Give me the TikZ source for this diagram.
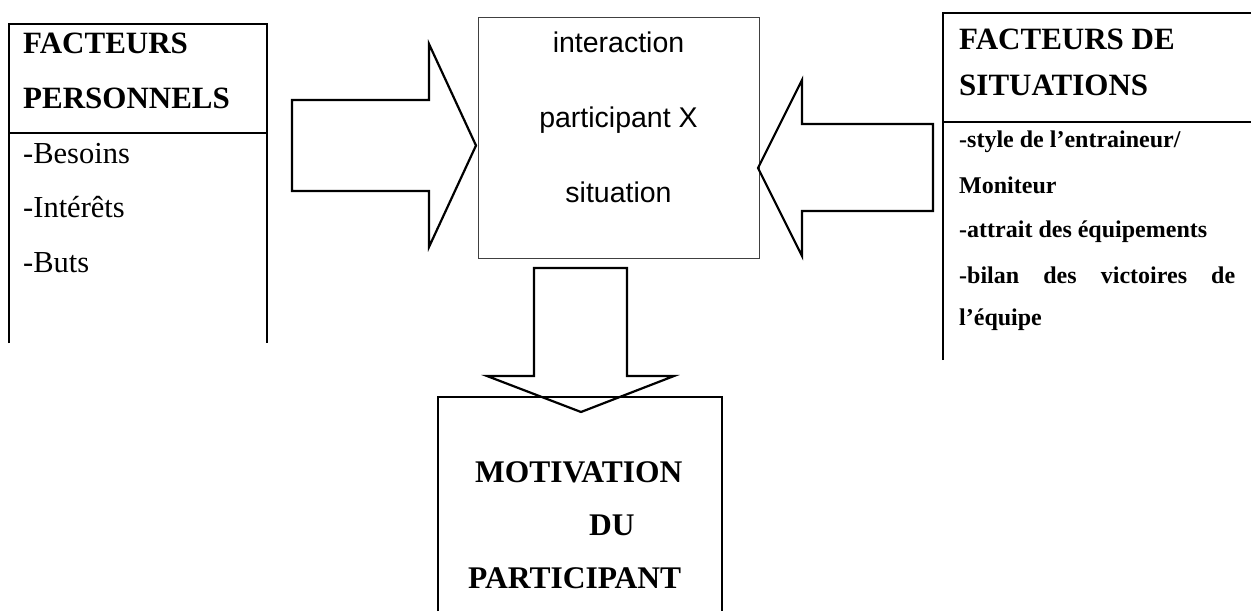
\documentclass[tikz,border=0pt]{standalone}
\usepackage{fontspec}
\setmainfont{Liberation Serif}
\newfontfamily\arialf{Liberation Sans}
\begin{document}
\begin{tikzpicture}[x=1pt,y=-1pt,
  boxline/.style={line width=1.5pt},
  blockarrow/.style={line width=2.2pt, line join=miter},
  title/.style={font=\fontsize{31}{36}\selectfont\bfseries, anchor=base west, inner sep=0pt},
  btitle/.style={font=\fontsize{31.5}{36}\selectfont\bfseries, anchor=base west, inner sep=0pt},
  item/.style={font=\fontsize{30.5}{34}\selectfont, anchor=base west, inner sep=0pt},
  ritem/.style={font=\fontsize{24}{28}\selectfont\bfseries, anchor=base west, inner sep=0pt},
  mid/.style={font=\arialf\fontsize{28.5}{34}\selectfont, anchor=base, inner sep=0pt}]
\useasboundingbox (0,0) rectangle (1251,611);

% left box
\draw[boxline] (9,343) -- (9,24) -- (267,24) -- (267,343);
\draw[boxline] (9,133) -- (267,133);
\node[title] (lt1) at (23,53) {FACTEURS};
\node[title] (lt2) at (23,108) {PERSONNELS};
\node[item] (l1) at (23,163) {-Besoins};
\node[item] (l2) at (23,217) {-Intérêts};
\node[item] (l3) at (23,272) {-Buts};

% centre box
\draw[line width=0.8pt, black!75] (478,17) rectangle (759,258);
\node[mid] (c1) at (618.5,52) {interaction};
\node[mid] (c2) at (618.5,127) {participant X};
\node[mid] (c3) at (618.5,202) {situation};

% right box
\draw[boxline] (943,360) -- (943,13) -- (1251,13);
\draw[boxline] (943,122) -- (1251,122);
\node[title] (rt1) at (959,49) {FACTEURS DE};
\node[title] (rt2) at (959,95) {SITUATIONS};
\node[ritem] (r1) at (959,147) {-style de l’entraineur/};
\node[ritem] (r2) at (959,193) {Moniteur};
\node[ritem] (r3) at (959,237) {-attrait des équipements};
\node[ritem] (r4) at (959,283) {\makebox[276pt][s]{-bilan des victoires de}};
\node[ritem] (r5) at (959,325) {l’équipe};

% bottom box
\draw[boxline] (438,611) -- (438,397) -- (722,397) -- (722,611);
\node[btitle] (b1) at (475,482) {MOTIVATION};
\node[btitle] (b2) at (589,535) {DU};
\node[btitle] (b3) at (468,588) {PARTICIPANT};

% block arrows
\draw[blockarrow] (292,100) -- (429,100) -- (429,44) -- (476,145.5) -- (429,247) -- (429,191) -- (292,191) -- cycle;
\draw[blockarrow] (933,124) -- (802,124) -- (802,80) -- (758,168) -- (802,256) -- (802,211) -- (933,211) -- cycle;
\draw[blockarrow] (534,268) -- (627,268) -- (627,376) -- (674,376) -- (581,412) -- (487,376) -- (534,376) -- cycle;
\end{tikzpicture}
\end{document}
